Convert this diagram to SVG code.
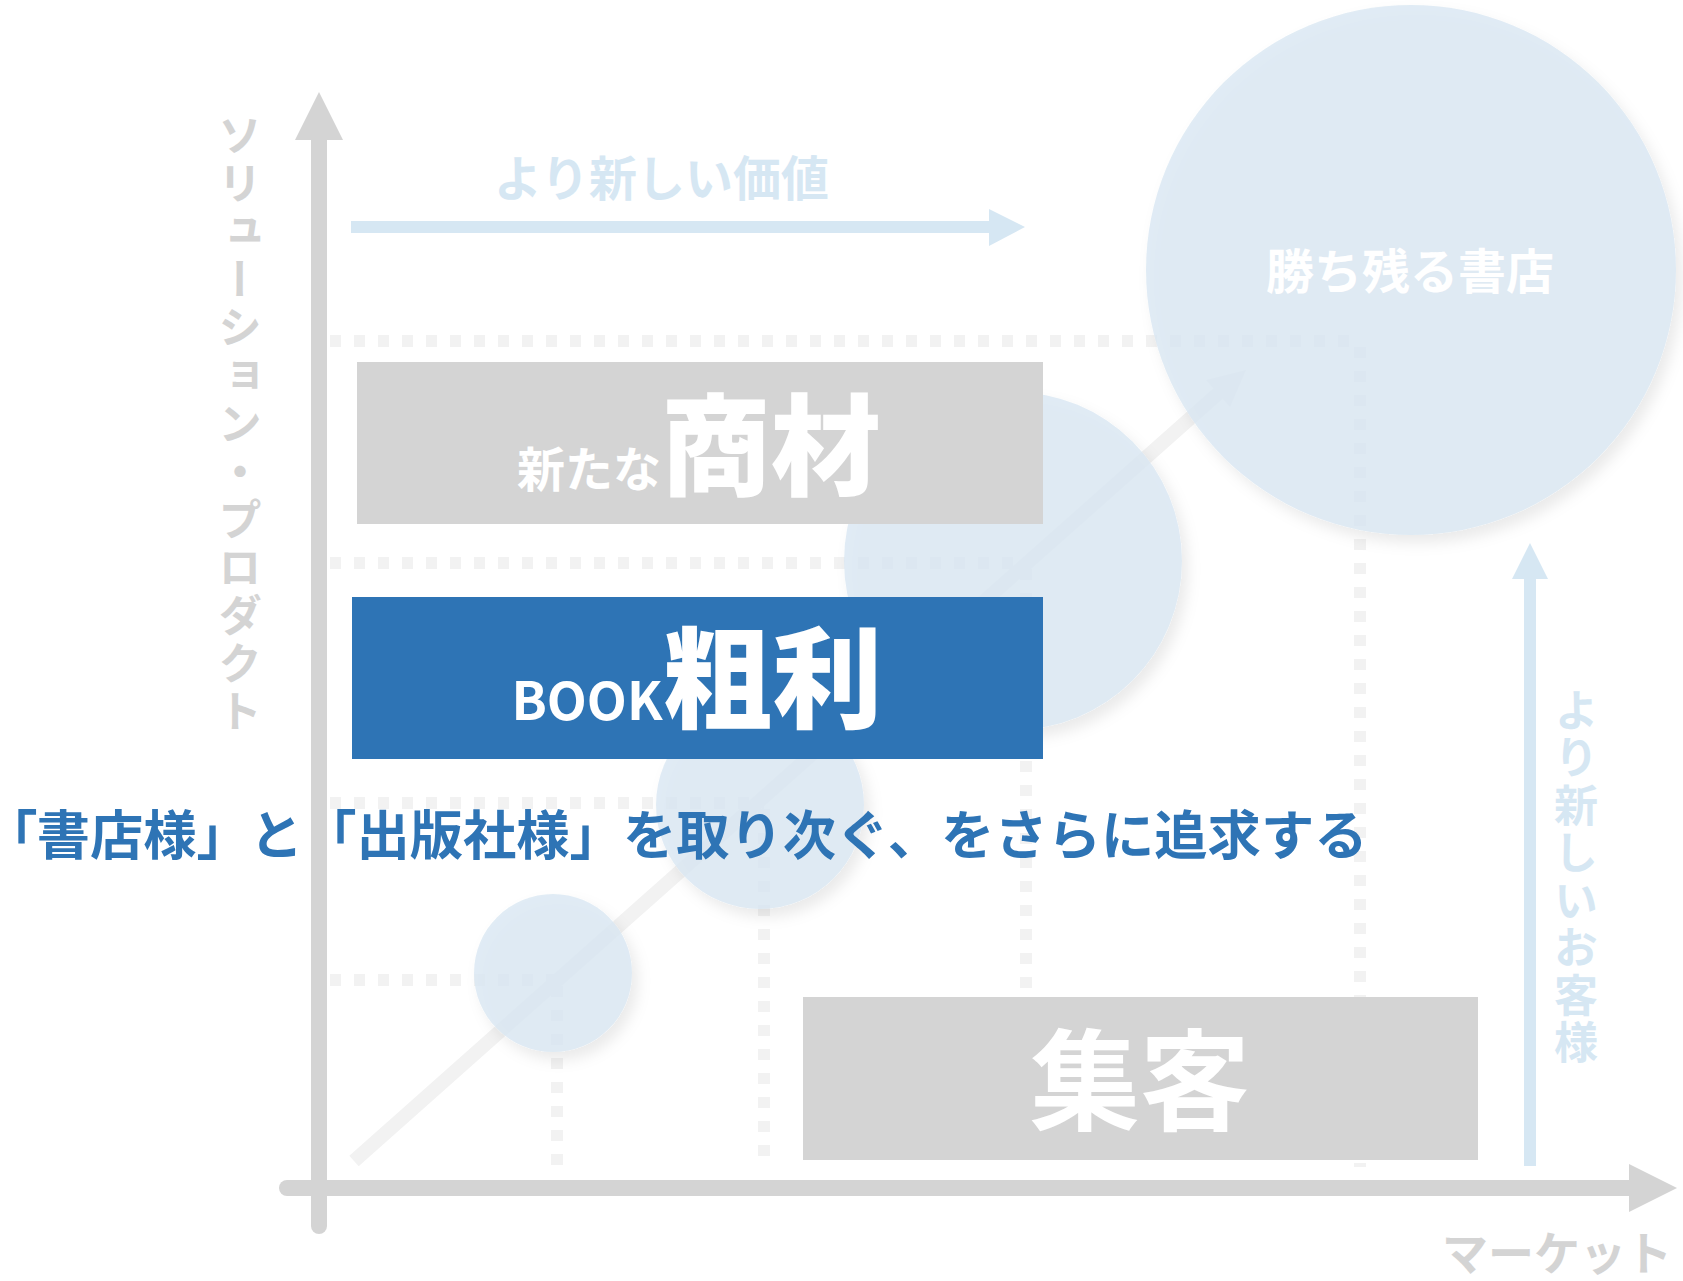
<svg xmlns="http://www.w3.org/2000/svg" width="1683" height="1281" viewBox="0 0 1683 1281">
<defs>
<style>
.jp{font-family:"Noto Sans CJK JP","Noto Sans",sans-serif;font-weight:700}
.dot{stroke:#f2f2f2;stroke-width:12;stroke-dasharray:11 13;fill:none}
.circ{fill:#d9e7f2;fill-opacity:0.8;filter:url(#sh)}
.axis{stroke:#d4d4d4;stroke-width:16;fill:none}
.axisHead{fill:#d4d4d4}
.blue{stroke:#d6e7f3;stroke-width:12;fill:none}
.blueHead{fill:#d6e7f3}
.vert{writing-mode:vertical-rl}
</style>
<filter id="sh" x="-20%" y="-20%" width="150%" height="150%">
<feDropShadow dx="6" dy="8" stdDeviation="7" flood-color="#000" flood-opacity="0.10"/>
</filter>
</defs>
<rect width="1683" height="1281" fill="#fff"/>

<g id="grid">
<line class="dot" x1="330" y1="341" x2="1360" y2="341"/>
<line class="dot" x1="330" y1="563" x2="1026" y2="563"/>
<line class="dot" x1="330" y1="803" x2="764" y2="803"/>
<line class="dot" x1="330" y1="980" x2="557" y2="980"/>
<line class="dot" x1="1360" y1="347" x2="1360" y2="1167"/>
<line class="dot" x1="1026" y1="569" x2="1026" y2="1167"/>
<line class="dot" x1="764" y1="809" x2="764" y2="1167"/>
<line class="dot" x1="557" y1="986" x2="557" y2="1167"/>
</g>

<g id="connectors">
<line x1="354" y1="1161" x2="1222" y2="390" stroke="#f2f2f2" stroke-width="14"/>
<polygon points="1246,370 1206,380 1230,407" fill="#f2f2f2"/>
</g>

<g id="circle-small"><circle class="circ" cx="553" cy="973" r="79"/></g>
<g id="circle-medium"><circle class="circ" cx="760" cy="805" r="104"/></g>
<g id="circle-large"><circle class="circ" cx="1013" cy="561" r="169"/></g>
<g id="circle-store">
<circle class="circ" cx="1411" cy="270" r="265"/>
<text class="jp" x="1410" y="289" font-size="48" fill="#ffffff" text-anchor="middle">勝ち残る書店</text>
</g>

<g id="box-shozai">
<rect x="357" y="362" width="686" height="162" fill="#d4d4d4"/>
<text class="jp" x="699" y="487" fill="#ffffff" text-anchor="middle"><tspan font-size="48">新たな</tspan><tspan font-size="110" font-weight="900">商材</tspan></text>
</g>

<g id="box-arari">
<rect x="352" y="597" width="691" height="162" fill="#2e74b5"/>
<text class="jp" x="697" y="720" fill="#ffffff" text-anchor="middle"><tspan font-size="52">BOOK</tspan><tspan font-size="110" font-weight="900">粗利</tspan></text>
</g>

<g id="box-shukyaku">
<rect x="803" y="997" width="675" height="163" fill="#d4d4d4"/>
<text class="jp" x="1140" y="1122" font-size="110" font-weight="900" fill="#ffffff" text-anchor="middle">集客</text>
</g>

<g id="main-text">
<text class="jp" x="10" y="855" font-size="53.3" font-weight="900" fill="#2e74b5"><tspan style="font-feature-settings:'palt'">「</tspan>書店様」と「出版社様」を取り次ぐ、をさらに追求する</text>
</g>

<g id="value-arrow">
<line class="blue" x1="351" y1="227" x2="990" y2="227"/>
<polygon class="blueHead" points="989,209 1025,227 989,246"/>
<text class="jp" x="494" y="196" font-size="48" fill="#d6e7f3">より新しい価値</text>
</g>

<g id="customer-arrow">
<line class="blue" x1="1530" y1="578" x2="1530" y2="1166"/>
<polygon class="blueHead" points="1512,579 1530,543 1548,579"/>
<text class="jp vert" x="1576" y="688" font-size="44" letter-spacing="3.5" fill="#d6e7f3">より新しいお客様</text>
</g>

<g id="y-axis">
<line class="axis" x1="319" y1="138" x2="319" y2="1226" stroke-linecap="round"/>
<polygon class="axisHead" points="295,140 319,92 343,140"/>
<text class="jp vert" x="240" y="113" font-size="44" letter-spacing="4" fill="#d4d4d4">ソリューション・プロダクト</text>
</g>

<g id="x-axis">
<line class="axis" x1="287" y1="1188" x2="1631" y2="1188" stroke-linecap="round"/>
<polygon class="axisHead" points="1629,1164 1677,1188 1629,1212"/>
<text class="jp" x="1442" y="1270" font-size="46" fill="#d4d4d4">マーケット</text>
</g>
</svg>
